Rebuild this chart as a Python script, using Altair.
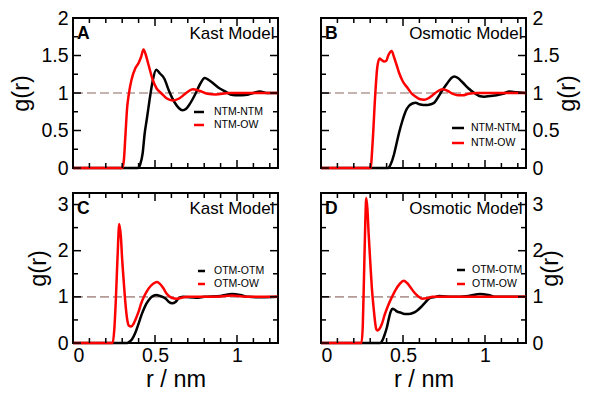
import altair as alt
import pandas as pd

# ---------------- data ----------------
R_MAX = 1.25
X_MAJOR = [0, 0.5, 1]
X_MINOR = [0.1, 0.2, 0.3, 0.4, 0.6, 0.7, 0.8, 0.9, 1.1, 1.2]
Y_TOP_MAJOR = [0, 0.5, 1, 1.5, 2]
Y_TOP_MINOR = [0.25, 0.75, 1.25, 1.75]
Y_BOT_MAJOR = [0, 1, 2, 3]
Y_BOT_MINOR = [0.5, 1.5, 2.5]

# Panel A (Kast Model)
R_A_NTM_NTM = [0, 0.395, 0.41, 0.425, 0.437, 0.45, 0.467, 0.485, 0.507, 0.53, 0.557, 0.585, 0.618, 0.645,
               0.668, 0.69, 0.708, 0.73, 0.749, 0.775, 0.803, 0.83, 0.86, 0.895, 0.93, 0.96, 0.99, 1.03,
               1.07, 1.10, 1.14, 1.18, 1.25]
G_A_NTM_NTM = [0, 0, 0.05, 0.2, 0.46, 0.65, 0.91, 1.15, 1.31, 1.26, 1.19, 1.03, 0.88, 0.80,
               0.77, 0.79, 0.84, 0.92, 1.0, 1.12, 1.2, 1.17, 1.12, 1.06, 1.02, 0.98, 0.97, 0.97,
               0.98, 1.0, 1.02, 1.0, 1.0]
R_A_NTM_OW = [0, 0.30, 0.31, 0.32, 0.33, 0.34, 0.356, 0.38, 0.40, 0.415, 0.43, 0.445, 0.46, 0.487, 0.51,
              0.537, 0.57, 0.61, 0.65, 0.69, 0.73, 0.77, 0.82, 0.87, 0.95, 1.25]
G_A_NTM_OW = [0, 0, 0.1, 0.45, 0.8, 0.98, 1.17, 1.33, 1.40, 1.48, 1.58, 1.50, 1.38, 1.17, 1.06,
              1.0, 0.93, 0.90, 0.93, 1.0, 1.05, 1.03, 0.99, 0.98, 1.0, 1.0]

# Panel B (Osmotic Model)
R_B_NTM_NTM = [0, 0.41, 0.425, 0.445, 0.46, 0.476, 0.495, 0.517, 0.537, 0.557, 0.578, 0.60, 0.625, 0.65,
               0.67, 0.69, 0.71, 0.741, 0.77, 0.795, 0.813, 0.835, 0.864, 0.90, 0.935, 0.965, 0.997,
               1.03, 1.07, 1.11, 1.15, 1.19, 1.25]
G_B_NTM_NTM = [0, 0, 0.05, 0.18, 0.32, 0.47, 0.62, 0.76, 0.83, 0.86, 0.87, 0.85, 0.84, 0.84,
               0.85, 0.87, 0.93, 1.04, 1.13, 1.2, 1.22, 1.2, 1.14, 1.06, 1.0, 0.96, 0.95,
               0.96, 0.97, 0.99, 1.02, 1.01, 1.0]
R_B_NTM_OW = [0, 0.302, 0.315, 0.33, 0.343, 0.357, 0.37, 0.385, 0.398, 0.41, 0.431, 0.445, 0.46, 0.476,
              0.50, 0.527, 0.55, 0.578, 0.60, 0.629, 0.655, 0.68, 0.71, 0.741, 0.77, 0.803, 0.835,
              0.864, 0.90, 0.95, 1.25]
G_B_NTM_OW = [0, 0, 0.35, 0.95, 1.34, 1.46, 1.44, 1.42, 1.43, 1.5, 1.56, 1.48, 1.38, 1.27,
              1.15, 1.07, 1.0, 0.95, 0.92, 0.91, 0.93, 0.97, 1.02, 1.05, 1.03, 0.99, 0.97,
              0.97, 0.99, 1.0, 1.0]

# Panel C (Kast Model)
R_C_OTM_OTM = [0, 0.33, 0.345, 0.36, 0.38, 0.40, 0.42, 0.44, 0.46, 0.48, 0.508, 0.53, 0.566, 0.585,
               0.604, 0.625, 0.645, 0.67, 0.75, 0.8, 0.9, 0.97, 1.02, 1.07, 1.15, 1.25]
G_C_OTM_OTM = [0, 0, 0.03, 0.08, 0.22, 0.42, 0.63, 0.8, 0.92, 1.0, 1.04, 1.02, 0.96, 0.89,
               0.86, 0.89, 0.97, 1.0, 0.98, 1.0, 1.02, 1.06, 1.04, 1.0, 0.99, 1.0]
R_C_OTM_OW = [0, 0.242, 0.252, 0.262, 0.272, 0.282, 0.292, 0.30, 0.309, 0.32, 0.33, 0.34, 0.355, 0.37,
              0.38, 0.40, 0.415, 0.431, 0.45, 0.475, 0.50, 0.512, 0.53, 0.55, 0.573, 0.60, 0.634,
              0.66, 0.70, 0.8, 0.9, 0.97, 1.03, 1.1, 1.25]
G_C_OTM_OW = [0, 0, 0.3, 1.0, 1.9, 2.58, 2.3, 1.8, 1.35, 0.85, 0.52, 0.38, 0.36, 0.42,
              0.5, 0.68, 0.85, 0.99, 1.12, 1.24, 1.31, 1.32, 1.28, 1.19, 1.06, 0.98, 0.96,
              0.98, 1.0, 1.0, 1.01, 1.03, 1.01, 1.0, 1.0]

# Panel D (Osmotic Model)
R_D_OTM_OTM = [0, 0.362, 0.375, 0.39, 0.402, 0.415, 0.425, 0.435, 0.45, 0.465, 0.484, 0.51, 0.535, 0.56,
               0.585, 0.61, 0.636, 0.667, 0.70, 0.72, 0.8, 0.9, 0.97, 1.02, 1.07, 1.15, 1.25]
G_D_OTM_OTM = [0, 0, 0.06, 0.2, 0.34, 0.55, 0.68, 0.74, 0.72, 0.68, 0.66, 0.63, 0.63, 0.65,
               0.70, 0.78, 0.88, 0.98, 1.0, 1.02, 1.0, 1.02, 1.06, 1.04, 1.0, 1.0, 1.0]
R_D_OTM_OW = [0, 0.247, 0.255, 0.262, 0.27, 0.276, 0.283, 0.29, 0.301, 0.31, 0.322, 0.33, 0.337, 0.345,
              0.355, 0.37, 0.39, 0.41, 0.433, 0.455, 0.48, 0.504, 0.525, 0.545, 0.565, 0.59, 0.616,
              0.645, 0.68, 0.8, 1.25]
G_D_OTM_OW = [0, 0, 0.4, 1.4, 2.6, 3.14, 2.9, 2.4, 1.72, 1.2, 0.72, 0.45, 0.3, 0.27,
              0.3, 0.4, 0.63, 0.82, 1.0, 1.15, 1.28, 1.35, 1.3, 1.21, 1.11, 1.02, 0.96,
              0.97, 1.0, 1.0, 1.0]

LETTERS = ["A", "B", "C", "D"]
MODELS = ["Kast Model", "Osmotic Model", "Kast Model", "Osmotic Model"]
SERIES = [
    [("NTM-NTM", R_A_NTM_NTM, G_A_NTM_NTM), ("NTM-OW", R_A_NTM_OW, G_A_NTM_OW)],
    [("NTM-NTM", R_B_NTM_NTM, G_B_NTM_NTM), ("NTM-OW", R_B_NTM_OW, G_B_NTM_OW)],
    [("OTM-OTM", R_C_OTM_OTM, G_C_OTM_OTM), ("OTM-OW", R_C_OTM_OW, G_C_OTM_OW)],
    [("OTM-OTM", R_D_OTM_OTM, G_D_OTM_OTM), ("OTM-OW", R_D_OTM_OW, G_D_OTM_OW)],
]
Y_MAX = [2, 2, 3.25, 3.25]
X_TITLE = "r / nm"
Y_TITLE = "g(r)"

# ---------------- style ----------------
W, H = 205, 150
COLORS = ["#000000", "#ff0000"]
FONT = "Liberation Sans"
REF_COLOR = "#b39a96"
MAJ, MIN = 8, 5
# legend layout per panel: (line x0, line x1, text x, y first, y second)
LEGEND_POS = [(121, 131, 141, 94, 107), (131, 143, 150, 110, 125),
              (125, 132, 141, 78, 91), (136, 144, 151, 77, 91)]
SIDES = ["left", "right", "left", "right"]


def panel(i):
    side = SIDES[i]
    bottom_row = i >= 2
    ymaj = Y_BOT_MAJOR if bottom_row else Y_TOP_MAJOR
    ymin = Y_BOT_MINOR if bottom_row else Y_TOP_MINOR
    frames = [pd.DataFrame({"r": rs, "g": gs, "series": name}) for name, rs, gs in SERIES[i]]
    df = pd.concat(frames, ignore_index=True)
    names = [s[0] for s in SERIES[i]]
    xs = alt.Scale(domain=[0, R_MAX], nice=False, zero=False)
    ys = alt.Scale(domain=[0, Y_MAX[i]], nice=False, zero=False)
    color = alt.Color("series:N", scale=alt.Scale(domain=names, range=COLORS), legend=None)

    common = dict(domain=False, grid=False, ticks=False, tickSize=0, format="~g",
                  labelFont=FONT, labelFontSize=19.5, labelColor="black",
                  titleFont=FONT, titleFontSize=23.5, titleFontWeight="normal",
                  titleColor="black")
    if bottom_row:
        x_main = alt.Axis(orient="bottom", values=X_MAJOR, labelPadding=3,
                          title=X_TITLE, titlePadding=3, **common)
    else:
        x_main = alt.Axis(orient="bottom", values=X_MAJOR, labels=False, title=None, **common)
    if side == "left":
        y_main = alt.Axis(orient="left", values=ymaj, labelPadding=5, title=Y_TITLE,
                          titlePadding=7, **common)
    else:
        y_main = alt.Axis(orient="right", values=ymaj, labelPadding=6, title=Y_TITLE,
                          titlePadding=-4, titleAngle=270, titleBaseline="top", **common)

    ref = alt.Chart(pd.DataFrame({"g": [1]})).mark_rule(
        color=REF_COLOR, strokeDash=[9, 4], strokeWidth=1.6
    ).encode(y=alt.Y("g:Q", scale=ys, axis=None))

    lines = alt.Chart(df).mark_line(strokeWidth=2.5, interpolate="monotone").encode(
        x=alt.X("r:Q", scale=xs, axis=x_main),
        y=alt.Y("g:Q", scale=ys, axis=y_main),
        color=color,
    )

    # inward tick marks on all four sides, placed through the scales
    def xticks(vals, length, top):
        return alt.Chart(pd.DataFrame({"r": vals})).mark_rule(
            color="black", strokeWidth=1.5
        ).encode(x=alt.X("r:Q", scale=xs, axis=None),
                 y=alt.value(0 if top else H), y2=alt.value(length if top else H - length))

    def yticks(vals, length, right):
        return alt.Chart(pd.DataFrame({"g": vals})).mark_rule(
            color="black", strokeWidth=1.5
        ).encode(y=alt.Y("g:Q", scale=ys, axis=None),
                 x=alt.value(W if right else 0), x2=alt.value(W - length if right else length))

    tick_layers = [xticks(X_MAJOR, MAJ, False), xticks(X_MINOR, MIN, False),
                   xticks(X_MAJOR, MAJ, True), xticks(X_MINOR, MIN, True),
                   yticks(ymaj, MAJ, False), yticks(ymin, MIN, False),
                   yticks(ymaj, MAJ, True), yticks(ymin, MIN, True)]

    letter = alt.Chart(pd.DataFrame({"t": [LETTERS[i]]})).mark_text(
        font=FONT, fontSize=17.5, fontWeight="bold", align="left", baseline="alphabetic",
        color="black"
    ).encode(x=alt.value(4), y=alt.value(21), text="t:N")
    model = alt.Chart(pd.DataFrame({"t": [MODELS[i]]})).mark_text(
        font=FONT, fontSize=17, align="right", baseline="alphabetic", color="black"
    ).encode(x=alt.value(W - 3.5), y=alt.value(21), text="t:N")

    x0, x1, tx, ya, yb = LEGEND_POS[i]
    legend_layers = []
    for k, (name, _, _) in enumerate(SERIES[i]):
        yy = ya if k == 0 else yb
        d = pd.DataFrame({"t": [name]})
        legend_layers.append(alt.Chart(d).mark_rule(color=COLORS[k], strokeWidth=2.5).encode(
            x=alt.value(x0), x2=alt.value(x1), y=alt.value(yy)))
        legend_layers.append(alt.Chart(d).mark_text(
            font=FONT, fontSize=10.5, align="left", baseline="middle", color="black"
        ).encode(x=alt.value(tx), y=alt.value(yy), text="t:N"))

    return alt.layer(ref, lines, *tick_layers, letter, model, *legend_layers).resolve_axis(
        x="independent", y="independent"
    ).properties(width=W, height=H)


chart = alt.concat(panel(0), panel(1), panel(2), panel(3), columns=2,
                   spacing=alt.RowColnumber(row=25, column=43), bounds="flush").configure_view(
    stroke="black", strokeWidth=2
).properties(padding={"left": 0, "top": -1, "right": 5, "bottom": 5}, background="white")

chart.save("out.html", embed_options={"renderer": "svg", "actions": False})
